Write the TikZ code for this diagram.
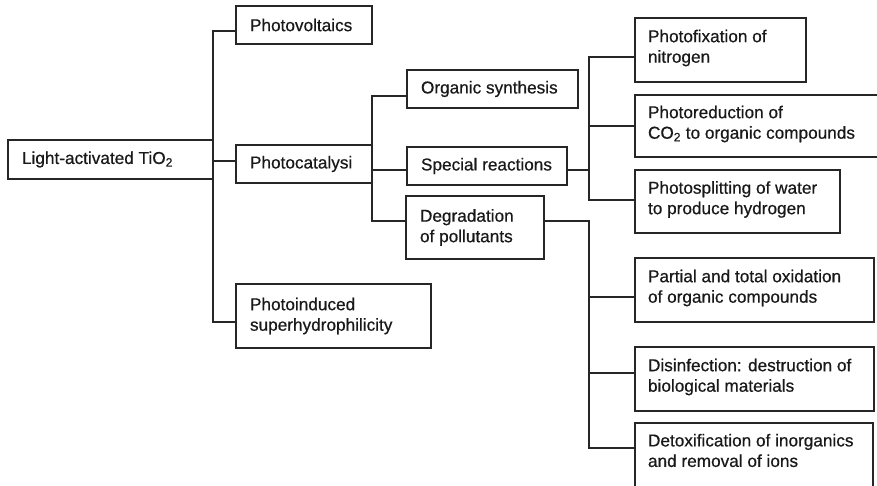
\documentclass[tikz,border=0pt]{standalone}
\usepackage{fontspec}
\setmainfont{Liberation Sans}[FakeBold=0.6]
\begin{document}
\begin{tikzpicture}[x=1pt,y=-1pt,
  line width=1.8pt, line join=miter,
  conn/.style={draw=black!85},
  box/.style={draw=black!85, rectangle, inner sep=0pt, outer sep=0pt, anchor=north west},
  lbl/.style={inner sep=0pt, outer sep=0pt, anchor=west, align=left, text=black!90,
    font=\fontsize{17.2}{20.5}\selectfont}]
\useasboundingbox (0,0) rectangle (877,486);
\clip (0,0) rectangle (877,486);
% boxes
\node[box, minimum width=205pt, minimum height=39pt] (root) at (8,140) {};
\node[box, minimum width=136pt, minimum height=38pt] (pv) at (236,6) {};
\node[box, minimum width=136pt, minimum height=38pt] (pc) at (236,145) {};
\node[box, minimum width=195pt, minimum height=64pt] (pi) at (236,284) {};
\node[box, minimum width=171pt, minimum height=38pt] (os) at (407,70) {};
\node[box, minimum width=160pt, minimum height=38pt] (sr) at (407,147) {};
\node[box, minimum width=138pt, minimum height=63pt] (dg) at (406,196) {};
\node[box, minimum width=171pt, minimum height=64pt] (pf) at (635,18) {};
\node[box, minimum width=260pt, minimum height=62pt] (pr) at (635,95) {};
\node[box, minimum width=205pt, minimum height=63pt] (ps) at (635,170) {};
\node[box, minimum width=239pt, minimum height=64pt] (po) at (635,258) {};
\node[box, minimum width=239pt, minimum height=64pt] (di) at (635,347) {};
\node[box, minimum width=238pt, minimum height=75pt] (de) at (635,423) {};
% texts
\node[lbl] (root-t) at ([xshift=14pt]root.west) {Light-activated TiO\textsubscript{2}};
\node[lbl] (pv-t) at ([xshift=14pt]pv.west) {Photovoltaics};
\node[lbl] (pc-t) at ([xshift=14pt]pc.west) {Photocatalysi};
\node[lbl] (pi-t) at ([xshift=14pt]pi.west) {Photoinduced\\superhydrophilicity};
\node[lbl] (os-t) at ([xshift=14pt]os.west) {Organic synthesis};
\node[lbl] (sr-t) at ([xshift=14pt]sr.west) {Special reactions};
\node[lbl] (dg-t) at ([xshift=14pt]dg.west) {Degradation\\of pollutants};
\node[lbl] (pf-t) at ([xshift=13pt,yshift=2pt]pf.west) {Photofixation of\\nitrogen};
\node[lbl] (pr-t) at ([xshift=13pt,yshift=2pt]pr.west) {Photoreduction of\\CO\textsubscript{2} to organic compounds};
\node[lbl] (ps-t) at ([xshift=13pt,yshift=2pt]ps.west) {Photosplitting of water\\to produce hydrogen};
\node[lbl] (po-t) at ([xshift=13pt,yshift=2pt]po.west) {Partial and total oxidation\\of organic compounds};
\node[lbl] (di-t) at ([xshift=13pt,yshift=2pt]di.west) {Disinfection: destruction of\\biological materials};
\node[lbl] (de-t) at ([xshift=13pt,yshift=10pt]de.west) {Detoxification of inorganics\\and removal of ions};
% trunk
\coordinate (t1) at (213,31);
\coordinate (t2) at (213,161);
\coordinate (t3) at (213,322);
\draw[conn] (t1 -| pv.west) -- (t1) -- (t3) -- (t3 -| pi.west);
\draw[conn] (t2) -- (t2 -| pc.west);
% photocatalysis branch
\coordinate (s1) at (372,96);
\coordinate (s2) at (372,170);
\coordinate (s3) at (372,221);
\draw[conn] (s1 -| os.west) -- (s1) -- (s3) -- (s3 -| dg.west);
\draw[conn] (s2) -- (s2 -| sr.west);
% special reactions branch
\coordinate (a0) at (589,170);
\coordinate (a1) at (589,57);
\coordinate (a2) at (589,126);
\coordinate (a3) at (589,200);
\draw[conn] (a0 -| sr.east) -- (a0);
\draw[conn] (a1 -| pf.west) -- (a1) -- (a3) -- (a3 -| ps.west);
\draw[conn] (a2) -- (a2 -| pr.west);
% degradation branch
\coordinate (b0) at (589,221);
\coordinate (b1) at (589,297);
\coordinate (b2) at (589,373);
\coordinate (b3) at (589,448);
\draw[conn] (b0 -| dg.east) -- (b0) -- (b3) -- (b3 -| de.west);
\draw[conn] (b1) -- (b1 -| po.west);
\draw[conn] (b2) -- (b2 -| di.west);
\end{tikzpicture}
\end{document}
